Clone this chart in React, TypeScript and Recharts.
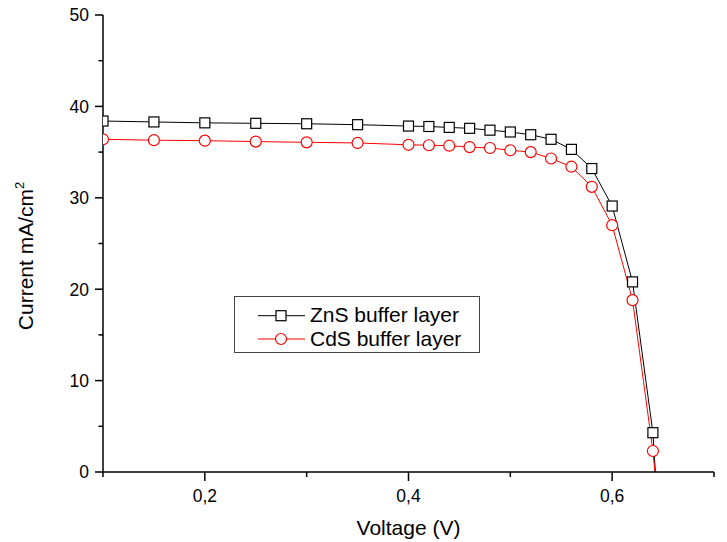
import { LineChart, Line, XAxis, YAxis, Legend } from "recharts";

// J-V curves
const voltage = [0.1, 0.15, 0.2, 0.25, 0.3, 0.35, 0.4, 0.42, 0.44, 0.46, 0.48, 0.5, 0.52, 0.54, 0.56, 0.58, 0.6, 0.62, 0.64, 0.66];
const znsCurrent = [38.4, 38.3, 38.2, 38.15, 38.1, 38.0, 37.85, 37.8, 37.7, 37.6, 37.4, 37.2, 36.9, 36.4, 35.3, 33.2, 29.1, 20.8, 4.3, -31];
const cdsCurrent = [36.4, 36.3, 36.25, 36.15, 36.07, 36.0, 35.8, 35.75, 35.7, 35.55, 35.45, 35.2, 35.0, 34.3, 33.4, 31.2, 27.0, 18.8, 2.3, -21];

const xTicks = [0.1, 0.2, 0.3, 0.4, 0.5, 0.6, 0.7];
const yTicks = [0, 5, 10, 15, 20, 25, 30, 35, 40, 45, 50];
const seriesNames = ["ZnS buffer layer", "CdS buffer layer"];

const data = voltage.map((v, i) => ({ v, zns: znsCurrent[i], cds: cdsCurrent[i] }));

const FONT = '"Liberation Sans", Arial, sans-serif';

function YTick({ x, y, payload }: any) {
  const major = payload.value % 10 === 0;
  return (
    <g>
      <line x1={x - (major ? 8 : 4.5)} x2={x} y1={y} y2={y} stroke="#000" strokeWidth={1.5} />
      {major && (
        <text x={x - 14} y={y} dy="0.36em" textAnchor="end" fontFamily={FONT} fontSize={17.5} fill="#000">
          {payload.value}
        </text>
      )}
    </g>
  );
}

function XTick({ x, y, payload }: any) {
  const major = Math.round(payload.value * 10) % 2 === 0;
  return (
    <g>
      <line x1={x} x2={x} y1={y} y2={y + (major ? 9 : 5)} stroke="#000" strokeWidth={1.5} />
      {major && (
        <text x={x} y={y + 30} textAnchor="middle" fontFamily={FONT} fontSize={17.5} fill="#000">
          {payload.value.toFixed(1).replace(".", ",")}
        </text>
      )}
    </g>
  );
}

const squareDot = (p: any) => {
  const { cx, cy, index } = p;
  if (cx == null || cy == null) return <g key={index} />;
  return <rect key={index} x={cx - 5} y={cy - 5} width={10} height={10} fill="#fff" stroke="#000" strokeWidth={1.2} />;
};

const circleDot = (p: any) => {
  const { cx, cy, index } = p;
  if (cx == null || cy == null) return <g key={index} />;
  return <circle key={index} cx={cx} cy={cy} r={5.5} fill="#fff" stroke="#ff0000" strokeWidth={1.2} />;
};

function LegendBox({ payload }: any) {
  // keep the series order, not the alphabetical one
  const items = [...(payload || [])].sort(
    (a: any, b: any) => seriesNames.indexOf(a.value) - seriesNames.indexOf(b.value)
  );
  return (
    <svg width={246} height={57} style={{ display: "block" }}>
      <rect x={0.5} y={0.5} width={245} height={56} fill="#fff" stroke="#444" strokeWidth={1} />
      {items.map((it: any, i: number) => {
        const cy = 19.7 + i * 23.3;
        const square = it.value === seriesNames[0];
        return (
          <g key={it.value}>
            <line x1={24} x2={71} y1={cy} y2={cy} stroke={it.color} strokeWidth={1} />
            {square ? (
              <rect x={42} y={cy - 5} width={10} height={10} fill="#fff" stroke="#000" strokeWidth={1.2} />
            ) : (
              <circle cx={47} cy={cy} r={5.5} fill="#fff" stroke="#ff0000" strokeWidth={1.2} />
            )}
            <text x={76} y={26 + i * 24} fontFamily={FONT} fontSize={21} fill="#000">
              {it.value}
            </text>
          </g>
        );
      })}
    </svg>
  );
}

export default function App() {
  return (
    <div style={{ position: "absolute", left: 0, top: 0, width: 727, height: 542, background: "#fff" }}>
      <LineChart width={727} height={542} data={data} margin={{ top: 15, right: 13, bottom: 0, left: 0 }}>
        <XAxis
          dataKey="v"
          type="number"
          domain={[0.1, 0.7]}
          ticks={xTicks}
          interval={0}
          allowDataOverflow
          height={70}
          tickSize={0}
          tickMargin={0}
          tickLine={false}
          axisLine={{ stroke: "#000", strokeWidth: 1.5 }}
          tick={<XTick />}
          label={(props: any) => {
            const vb = props.viewBox || {};
            return (
              <text x={vb.x + vb.width / 2} y={vb.y + 63} textAnchor="middle" fontFamily={FONT} fontSize={21} fill="#000">
                Voltage (V)
              </text>
            );
          }}
        />
        <YAxis
          type="number"
          domain={[0, 50]}
          ticks={yTicks}
          interval={0}
          allowDataOverflow
          width={103}
          tickSize={0}
          tickMargin={0}
          tickLine={false}
          axisLine={{ stroke: "#000", strokeWidth: 1.5 }}
          tick={<YTick />}
          label={() => (
            <text x={33} y={256} transform="rotate(-90, 33, 256)" textAnchor="middle" fontFamily={FONT} fontSize={21} fill="#000">
              Current mA/cm<tspan dy={-9} fontSize={13}>2</tspan>
            </text>
          )}
        />
        <Legend
          layout="vertical"
          verticalAlign="middle"
          align="center"
          itemSorter={null as any}
          content={<LegendBox />}
          wrapperStyle={{ left: 234, top: 296, width: 246, height: 57 }}
        />
        <Line
          type="linear"
          dataKey="zns"
          name={seriesNames[0]}
          stroke="#000"
          strokeWidth={1}
          dot={squareDot}
          activeDot={false}
          isAnimationActive={false}
        />
        <Line
          type="linear"
          dataKey="cds"
          name={seriesNames[1]}
          stroke="#ff0000"
          strokeWidth={1}
          dot={circleDot}
          activeDot={false}
          isAnimationActive={false}
        />
      </LineChart>
    </div>
  );
}
